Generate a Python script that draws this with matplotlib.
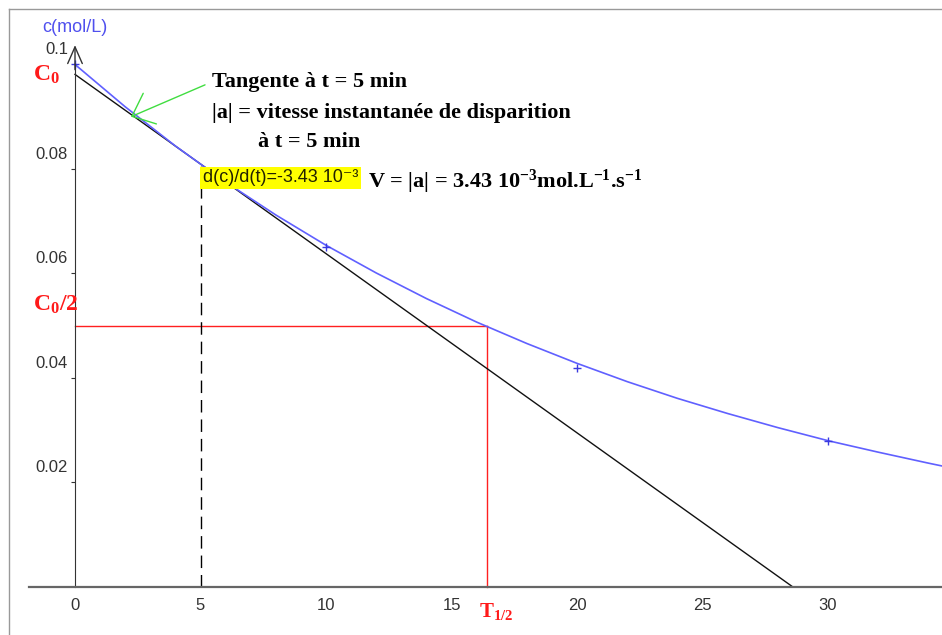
import matplotlib
matplotlib.use("Agg")
import matplotlib.pyplot as plt
from matplotlib.lines import Line2D

plt.rcParams['mathtext.fontset'] = 'custom'
plt.rcParams['mathtext.rm'] = 'Liberation Serif:bold'
plt.rcParams['mathtext.it'] = 'Liberation Serif:bold'
plt.rcParams['mathtext.bf'] = 'Liberation Serif:bold'
plt.rcParams['mathtext.default'] = 'rm'

# concentration curve (t in min, c in mol/L)
curve_t = [0, 2, 4, 6, 8, 10, 12, 14, 16, 18, 20, 22, 24, 26, 28, 30, 32, 34, 34.6]
curve_c = [0.1, 0.0919, 0.0844, 0.0775, 0.0712, 0.0654, 0.0601, 0.0552, 0.0507,
           0.0466, 0.0428, 0.0393, 0.0361, 0.0332, 0.0305, 0.0280, 0.0258, 0.0237, 0.0231]

# measured points
meas_t = [0, 10, 20, 30]
meas_c = [0.1, 0.0651, 0.0419, 0.0279]

# tangent at t = 5 min
tan_t = [0, 28.6]
tan_c = [0.0981, 0]
t5, c5 = 5, 0.0809

# half-life construction
t_half, c_half = 16.4, 0.05

xticks = [0, 5, 10, 15, 20, 25, 30]
yticks = [0.02, 0.04, 0.06, 0.08]
ylabels = ['0.02', '0.04', '0.06', '0.08']

serif_b = dict(family='Liberation Serif', weight='bold')

fig = plt.figure(figsize=(9.42, 6.35), dpi=100)
ax = fig.add_axes([0, 0, 1, 1])
ax.set_xlim(-2.988, 34.54)
ax.set_ylim(-0.00919, 0.11234)
ax.patch.set_alpha(0)

for s in ['top', 'right']:
    ax.spines[s].set_visible(False)
ax.spines['left'].set_position(('data', 0))
ax.spines['left'].set_bounds(0, 0.1)
ax.spines['left'].set_color('#333333')
ax.spines['bottom'].set_position(('data', 0))
ax.spines['bottom'].set_bounds(-1.83, 34.54)
ax.spines['bottom'].set_color('#666666')
ax.spines['bottom'].set_linewidth(1.6)

ax.set_xticks(xticks)
ax.set_xticklabels([str(v) for v in xticks], family='Liberation Sans', fontsize=12, color='#333333')
ax.tick_params(axis='x', length=0, pad=8)
ax.set_yticks(yticks)
ax.set_yticklabels([])
ax.tick_params(axis='y', direction='out', length=3, color='#333333')

# y labels sit a bit above their ticks
for v, lab in zip(yticks + [0.1], ylabels + ['0.1']):
    ax.text(-0.28, v + 0.0028, lab, ha='right', va='center', family='Liberation Sans',
            fontsize=12, color='#333333')

# y axis arrow
ax.annotate('', xy=(0, 0.1037), xytext=(0, 0.099),
            arrowprops=dict(arrowstyle='->,head_length=0.8,head_width=0.35', lw=1,
                            color='#333333', mutation_scale=15, shrinkA=0, shrinkB=0))
ax.text(-1.31, 0.1070, 'c(mol/L)', ha='left', va='center', family='Liberation Sans',
        fontsize=13, color='#5050ee')

# half-life lines
ax.plot([0, t_half], [c_half, c_half], color='#ff2020', lw=1)
ax.plot([t_half, t_half], [0, c_half], color='#ff2020', lw=1)

# dashed line at t = 5
ax.plot([t5, t5], [0, c5], color='black', lw=1, dashes=(9, 5))

# tangent and curve
ax.plot(tan_t, tan_c, color='#111111', lw=1)
ax.plot(curve_t, curve_c, color='#6060ff', lw=1.2)
ax.plot(meas_t, meas_c, '+', color='#3a3ae0', ms=6, mew=1)

# labels in red
ax.text(-1.67, 0.098, r'C$_0$', ha='left', va='center', color='#ff1a1a', fontsize=17, **serif_b)
ax.text(-1.67, 0.054, r'C$_0$/2', ha='left', va='center', color='#ff1a1a', fontsize=17, **serif_b)
ax.text(16.1, -0.0046, r'T$_{1/2}$', ha='left', va='center', color='#ff1a1a', fontsize=15, **serif_b)

# annotation
ax.text(5.46, 0.0967, 'Tangente à t = 5 min', ha='left', va='center', fontsize=16, **serif_b)
ax.text(5.46, 0.0907, '|a| = vitesse instantanée de disparition', ha='left', va='center',
        fontsize=16, **serif_b)
ax.text(7.29, 0.0852, 'à t = 5 min', ha='left', va='center', fontsize=16, **serif_b)
ax.text(11.67, 0.0764, r'V = |a| = 3.43 10$^{-3}$mol.L$^{-1}$.s$^{-1}$', ha='left',
        va='baseline', fontsize=16, **serif_b)
ax.text(5.1, 0.0783, 'd(c)/d(t)=-3.43 10⁻³', ha='left', va='center',
        family=['Liberation Sans', 'DejaVu Sans'], fontsize=13, color='#222200',
        bbox=dict(boxstyle='square,pad=0.15', facecolor='#ffff00', edgecolor='none'))

# green arrow to the tangent
ax.annotate('', xy=(2.23, 0.0900), xytext=(5.18, 0.0961),
            arrowprops=dict(arrowstyle='->,head_length=1.4,head_width=1.2', lw=1,
                            color='#40dd40', mutation_scale=10, shrinkA=0, shrinkB=0))

# outer frame
fig.add_artist(Line2D([9 / 942, 9 / 942], [0, 1 - 9 / 635], transform=fig.transFigure,
                      color='#999999', lw=1))
fig.add_artist(Line2D([9 / 942, 1], [1 - 9 / 635, 1 - 9 / 635], transform=fig.transFigure,
                      color='#999999', lw=1))

fig.savefig('out.png', dpi=100)
